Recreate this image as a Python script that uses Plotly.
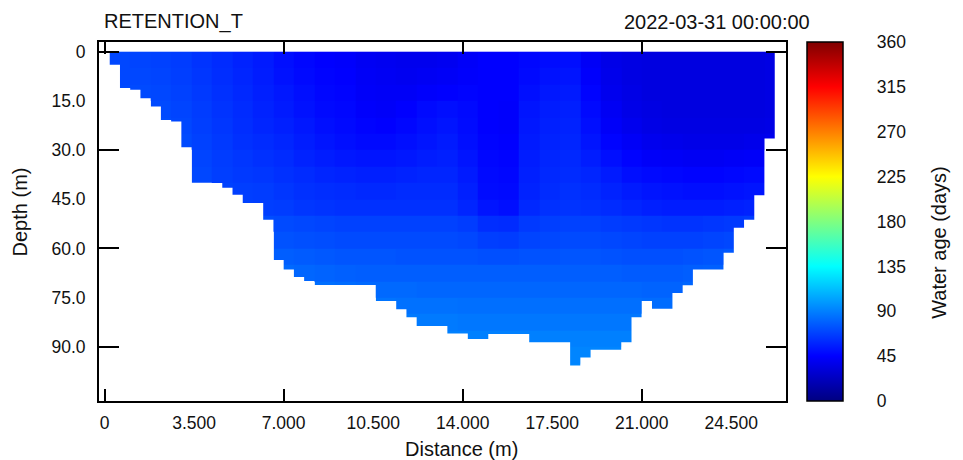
import plotly.graph_objects as go

N = None
# ---- data ----
x_label_vals = [0, 3.5, 7, 10.5, 14, 17.5, 21, 24.5]
x_labels = ["0", "3.500", "7.000", "10.500", "14.000", "17.500", "21.000", "24.500"]
x_tick_vals = [0, 7, 14, 21]
y_label_vals = [0, 15, 30, 45, 60, 75, 90]
y_labels = ["0", "15.0", "30.0", "45.0", "60.0", "75.0", "90.0"]
y_tick_vals = [0, 30, 60, 90]
cbar_vals = [0, 45, 90, 135, 180, 225, 270, 315, 360]

# model segment grid (distance, m) and bottom depth of each segment (m)
seg_start = 0.2
seg_width = 0.4
seg_bottom = [4.0, 11.1, 11.6, 14.2, 16.7, 20.8, 21.3, 29.1, 40.0, 40.0,
              40.0, 41.5, 43.6, 46.1, 46.1, 51.2, 63.5, 66.4, 68.7, 69.9,
              71.1, 71.1, 71.1, 71.1, 71.1, 71.1, 76.0, 76.0, 78.5, 81.0,
              83.6, 83.6, 83.6, 85.9, 85.9, 87.6, 87.6, 86.1, 86.1, 86.1,
              86.1, 88.6, 88.6, 88.6, 88.6, 95.7, 93.2, 90.9, 90.9, 90.9,
              88.6, 81.0, 76.0, 78.4, 78.4, 73.6, 71.2, 66.4, 66.4, 66.4,
              61.3, 53.7, 51.2, 43.8, 26.5]

# water-age cells: distance edges, depth edges, values (days)
cell_x_edges = [0.2, 1.0, 1.8, 2.6, 3.4, 4.2, 5.0, 5.8, 6.6, 7.4, 8.2, 9.0,
                9.8, 10.6, 11.4, 12.2, 13.0, 13.8, 14.6, 15.4, 16.2, 17.0,
                17.8, 18.6, 19.4, 20.2, 21.0, 21.8, 22.6, 23.4, 24.2, 25.0,
                25.8, 26.2]
cell_y_edges = [0, 5, 10, 15, 20, 25, 30, 35, 40, 45, 50, 55, 60, 65, 70,
                75, 80, 85, 90, 95, 100]
age = [
    [70, 69, 68, 66, 63, 60, 57, 54, 50, 47, 45, 44, 41, 40, 39, 39, 40, 43, 45, 45, 47, 49, 50, 42, 37, 35, 34, 34, 34, 34, 34, 34, 35],
    [70, 70, 69, 67, 64, 61, 58, 55, 51, 48, 46, 45, 42, 41, 40, 41, 42, 44, 45, 45, 48, 51, 52, 44, 38, 35, 34, 34, 34, 34, 34, 34, 35],
    [71, 71, 70, 68, 65, 62, 59, 56, 53, 50, 47, 46, 43, 42, 42, 44, 45, 46, 45, 45, 50, 53, 54, 46, 39, 36, 34, 34, 34, 34, 34, 34, 35],
    [N, N, 71, 69, 66, 63, 60, 57, 54, 51, 48, 47, 44, 43, 45, 48, 50, 48, 45, 44, 52, 55, 56, 48, 41, 37, 35, 34, 34, 34, 34, 34, 35],
    [N, N, 72, 70, 67, 64, 61, 58, 56, 53, 50, 48, 46, 45, 47, 50, 52, 49, 45, 44, 53, 56, 57, 50, 43, 39, 36, 35, 35, 35, 35, 35, 36],
    [N, N, N, 71, 68, 65, 62, 60, 58, 55, 52, 50, 48, 48, 50, 52, 54, 50, 46, 45, 54, 57, 58, 52, 46, 42, 39, 38, 37, 37, 37, 38, 39],
    [N, N, N, N, 69, 66, 64, 62, 60, 57, 55, 53, 52, 52, 53, 55, 56, 52, 47, 46, 55, 58, 59, 55, 50, 46, 43, 42, 41, 41, 42, 43, N],
    [N, N, N, N, 70, 67, 65, 64, 62, 60, 58, 57, 56, 56, 57, 58, 58, 54, 48, 47, 56, 59, 60, 58, 54, 50, 48, 47, 46, 46, 47, 48, N],
    [N, N, N, N, N, 68, 67, 66, 64, 62, 61, 60, 59, 59, 60, 60, 60, 56, 49, 48, 57, 60, 62, 60, 57, 54, 52, 51, 50, 50, 51, 52, N],
    [N, N, N, N, N, N, 68, 67, 66, 64, 63, 62, 62, 62, 62, 62, 62, 58, 52, 50, 59, 62, 63, 62, 60, 58, 56, 55, 55, 55, 56, 57, N],
    [N] * 7 + [72, 71, 70, 69, 68, 68, 68, 68, 68, 68, 66, 61, 60, 65, 67, 68, 68, 66, 65, 64, 63, 63, 64, 65, 66] + [N],
    [N] * 8 + [74, 73, 72, 71, 71, 71, 71, 71, 71, 70, 67, 66, 69, 70, 71, 71, 70, 69, 68, 68, 68, 69, 70] + [N] * 2,
    [N] * 8 + [78, 77, 76, 75, 75, 75, 74, 74, 74, 74, 73, 73, 74, 74, 75, 75, 74, 73, 73, 73, 74, 75, 76] + [N] * 2,
    [N] * 8 + [82, 81, 80, 79, 78, 78, 78, 78, 78, 78, 78, 78, 78, 78, 78, 78, 78, 77, 77, 77, 78, 79] + [N] * 3,
    [N] * 10 + [84, 83, 82, 82, 82, 81, 81, 81, 81, 81, 81, 81, 81, 81, 81, 81, 80, 80, 81] + [N] * 4,
    [N] * 13 + [86, 85, 85, 85, 84, 84, 84, 84, 84, 84, 84, 84, 84, 83, 83] + [N] * 5,
    [N] * 14 + [88, 88, 88, 87, 87, 87, 87, 87, 87, 87, 87, 87] + [N] * 7,
    [N] * 16 + [90, 90, 90, 90, 90, 90, 90, 90, 90, 90] + [N] * 7,
    [N] * 22 + [92, 92, 92] + [N] * 8,
    [N] * 22 + [93] + [N] * 10,
]

title_left = "RETENTION_T"
title_right = "2022-03-31 00:00:00"

# ---- styling ----
FONT = "Arial, Liberation Sans, sans-serif"
X_RANGE = [-0.22, 26.64]
Y_RANGE = [106.5, -2.96]
jet = [[0.0, "rgb(0,0,128)"], [0.125, "rgb(0,0,255)"], [0.375, "rgb(0,255,255)"],
       [0.625, "rgb(255,255,0)"], [0.875, "rgb(255,0,0)"], [1.0, "rgb(128,0,0)"]]

fig = go.Figure()
fig.add_trace(go.Heatmap(
    x=cell_x_edges, y=cell_y_edges, z=age,
    colorscale=jet, zmin=0, zmax=360, hoverongaps=False,
    colorbar=dict(
        x=1.0306, xanchor="left", xpad=0, y=0.5, yanchor="middle", len=1.0,
        lenmode="fraction", ypad=0, thickness=36, thicknessmode="pixels",
        outlinecolor="black", outlinewidth=1.5,
        tickvals=cbar_vals, ticktext=[str(v) for v in cbar_vals],
        ticks="outside", ticklen=30, tickcolor="rgba(0,0,0,0)",
        tickfont=dict(family=FONT, size=17.5, color="#111"),
    ),
))

# bed below the bottom of each segment (white mask)
edges = [seg_start + seg_width * k for k in range(len(seg_bottom) + 1)]
bx, by = [X_RANGE[0]], [seg_bottom[0]]
for k, d in enumerate(seg_bottom):
    bx += [edges[k], edges[k + 1]]
    by += [d, d]
bx += [X_RANGE[1], X_RANGE[1], X_RANGE[0]]
by += [seg_bottom[-1], Y_RANGE[0] + 5, Y_RANGE[0] + 5]
fig.add_trace(go.Scatter(x=bx, y=by, mode="lines", fill="toself",
                         fillcolor="white", line=dict(width=0, color="white"),
                         hoverinfo="skip", showlegend=False))
# helper trace for the tick-only axes
fig.add_trace(go.Scatter(x=[], y=[], xaxis="x2", yaxis="y2", showlegend=False))

axfont = dict(family=FONT, size=17.5, color="#111")
tfont = dict(family=FONT, size=20, color="#111")
fig.update_layout(
    width=963, height=460,
    margin=dict(l=99, r=177, t=42, b=59),
    paper_bgcolor="white", plot_bgcolor="white",
    font=dict(family=FONT, color="#111"),
    showlegend=False,
    xaxis=dict(range=X_RANGE, tickvals=x_label_vals, ticktext=x_labels,
               ticks="", ticklabelstandoff=5, tickfont=axfont,
               showgrid=False, zeroline=False, showline=True,
               linecolor="black", linewidth=1.8, mirror=True),
    yaxis=dict(range=Y_RANGE, tickvals=y_label_vals, ticktext=y_labels,
               ticks="", ticklabelstandoff=8, tickfont=axfont,
               showgrid=False, zeroline=False, showline=True,
               linecolor="black", linewidth=1.8, mirror=True),
    xaxis2=dict(range=X_RANGE, overlaying="x", anchor="y2", tickvals=x_tick_vals,
                ticks="inside", ticklen=12, tickwidth=2, tickcolor="black",
                showticklabels=False, showgrid=False, zeroline=False,
                showline=True, linecolor="black", linewidth=1.8, mirror="ticks"),
    yaxis2=dict(range=Y_RANGE, overlaying="y", anchor="x2", tickvals=y_tick_vals,
                ticks="inside", ticklen=20, tickwidth=2, tickcolor="black",
                showticklabels=False, showgrid=False, zeroline=False,
                showline=True, linecolor="black", linewidth=1.8, mirror="ticks"),
    annotations=[
        dict(text=title_left, xref="paper", yref="paper", x=0.004, y=1.057,
             xanchor="left", yanchor="middle", showarrow=False, font=tfont),
        dict(text=title_right, xref="paper", yref="paper", x=1.0378, y=1.057,
             xanchor="right", yanchor="middle", showarrow=False, font=tfont),
        dict(text="Distance (m)", xref="paper", yref="paper", x=0.5275, y=-0.135,
             xanchor="center", yanchor="middle", showarrow=False, font=tfont),
        dict(text="Depth (m)", xref="paper", yref="paper", x=-0.115, y=0.528,
             xanchor="center", yanchor="middle", showarrow=False, textangle=-90,
             font=tfont),
        dict(text="Water age (days)", xref="paper", yref="paper", x=1.2235, y=0.442,
             xanchor="center", yanchor="middle", showarrow=False, textangle=-90,
             font=tfont),
    ],
)

fig.write_html("out.html")
